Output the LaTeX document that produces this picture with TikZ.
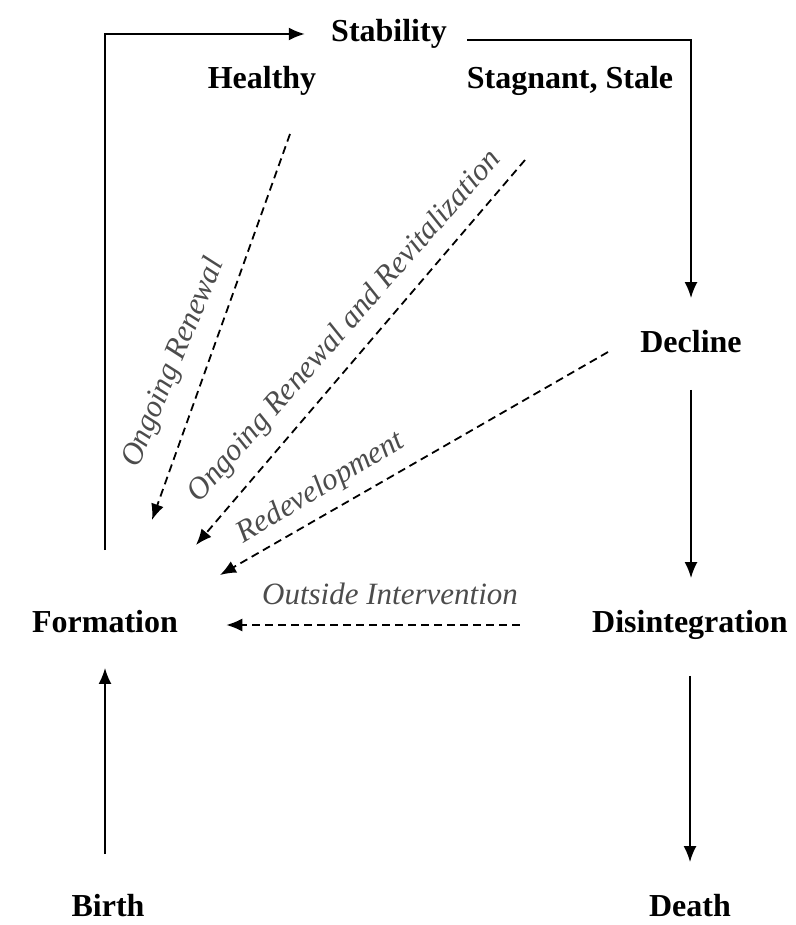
\documentclass[tikz,border=0pt]{standalone}
\usepackage{fontspec}
\setmainfont{Liberation Serif}
\usetikzlibrary{arrows.meta}

\begin{document}
\begin{tikzpicture}[x=0.5pt,y=-0.5pt,
  stage/.style={font=\bfseries\fontsize{16}{19}\selectfont, inner sep=0pt,
    text height=11pt, text depth=3.5pt},
  pathlabel/.style={font=\itshape\fontsize{15.5}{18}\selectfont, text=black!70,
    inner sep=0pt},
  solidarrow/.style={line width=1pt, -{Latex[length=8pt,width=6.5pt]}},
  dasharrow/.style={line width=0.9pt, dash pattern=on 4pt off 2.5pt,
    -{Latex[length=8pt,width=6.5pt]}}]
\useasboundingbox (0,0) rectangle (796,925);

% The stages of the cycle
\node[stage] (stability) at (389,34) {Stability};
\node[stage] (healthy) at (262,81) {Healthy};
\node[stage] (stagnant) at (570,81) {Stagnant, Stale};
\node[stage] (decline) at (691,345) {Decline};
\node[stage] (disint) at (690,625) {Disintegration};
\node[stage] (formation) at (105,625) {Formation};
\node[stage] (birth) at (108,909) {Birth};
\node[stage] (death) at (690,909) {Death};

% Ends of the dashed paths back to formation
\coordinate (renew-start) at (290,134);
\coordinate (renew-end) at (152,520);
\coordinate (revit-start) at (525,160);
\coordinate (revit-end) at (196,545);
\coordinate (redev-start) at (608,352);
\coordinate (redev-end) at (220,575);

% Draw the main cycle
\draw[solidarrow, shorten <=20pt, shorten >=14pt]
  (birth.north -| formation.south) -- (formation.south);
\draw[solidarrow, shorten <=30pt, shorten >=13pt] (formation) |- (stability);
\draw[solidarrow, shorten <=10pt, shorten >=16pt]
  ([yshift=-3pt]stability.east) -| (decline);
\draw[solidarrow, shorten <=15pt, shorten >=16pt]
  (decline.south) -- (disint.north -| decline.south);
\draw[solidarrow, shorten <=18pt, shorten >=16pt] (disint) -- (death);

% Draw the ways back
\draw[dasharrow] (renew-start) -- (renew-end);
\draw[dasharrow] (revit-start) -- (revit-end);
\draw[dasharrow] (redev-start) -- (redev-end);
\draw[dasharrow, shorten <=36pt, shorten >=24pt] (disint) -- (formation);

% Label the ways back
\node[pathlabel, rotate=67.5] (renew-label) at (174,363) {Ongoing Renewal};
\node[pathlabel, rotate=48.7] (revit-label) at (345,327)
  {Ongoing Renewal and Revitalization};
\node[pathlabel, rotate=31] (redev-label) at (321,488) {Redevelopment};
\node[pathlabel] (outside-label) at (390,594) {Outside Intervention};

\end{tikzpicture}
\end{document}
